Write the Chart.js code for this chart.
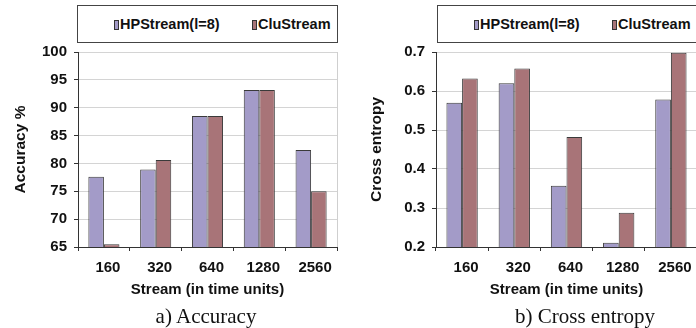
<!DOCTYPE html>
<html>
<head>
<meta charset="utf-8">
<script src="https://cdn.jsdelivr.net/npm/chart.js@4/dist/chart.umd.min.js"></script>
<style>
  body { margin: 0; background: #fff; width: 696px; height: 328px; overflow: hidden; position: relative;
         font-family: "Liberation Sans", Arial, sans-serif; }
  .panel { position: absolute; top: 0; height: 328px; overflow: hidden; }
  .legend { position: absolute; top: 5px; height: 38px; border: 1px solid #444; box-sizing: border-box; background: #fff; }
  .item { position: absolute; top: 0; height: 36px; line-height: 36px; font-weight: bold; font-size: 14.5px;
          color: #111; white-space: nowrap; }
  .sw { display: inline-block; width: 3px; height: 8px; border: 1px solid #333; margin-right: 1px; vertical-align: -1px; }
  .caption { position: absolute; top: 303px; width: 240px; text-align: center; font-family: "Liberation Serif", "Times New Roman", serif;
             font-size: 21px; line-height: 26px; color: #111; }
</style>
</head>
<body>
<div class="panel" style="left:0;width:348px">
  <canvas id="acc" width="348" height="328"></canvas>
  <div class="legend" id="acc-legend" style="left:77px;width:261px"></div>
</div>
<div class="panel" style="left:348px;width:348px">
  <canvas id="ce" width="362" height="328"></canvas>
  <div class="legend" id="ce-legend" style="left:89px;width:280px"></div>
</div>
<div class="caption" style="left:86px">a) Accuracy</div>
<div class="caption" style="left:465px">b) Cross entropy</div>
<script>
const streams = ["160", "320", "640", "1280", "2560"];
const seriesNames = ["HPStream(l=8)", "CluStream"];
const seriesColors = ["#a39bc8", "#a87478"];

const accHP = [77.6, 78.9, 88.5, 93.2, 82.4];
const accClu = [65.5, 80.6, 88.5, 93.2, 75.0];

const ceHP = [0.57, 0.62, 0.357, 0.211, 0.578];
const ceClu = [0.632, 0.658, 0.482, 0.288, 0.698];

const FONT = "'Liberation Sans', Arial, sans-serif";

// light gray line on the right side of the plot area
const plotFrame = {
  id: "plotFrame",
  afterDraw(chart) {
    const { ctx, chartArea } = chart;
    ctx.save();
    ctx.strokeStyle = "#cfcfcf";
    ctx.lineWidth = 1;
    ctx.beginPath();
    ctx.moveTo(Math.round(chartArea.right) + 0.5, chartArea.top);
    ctx.lineTo(Math.round(chartArea.right) + 0.5, chartArea.bottom);
    ctx.stroke();
    ctx.restore();
  },
};

function drawBars(id, values, cfg) {
  return new Chart(document.getElementById(id), {
    type: "bar",
    data: {
      labels: streams,
      datasets: values.map((v, i) => ({
        label: seriesNames[i],
        data: v,
        backgroundColor: seriesColors[i],
        borderColor: "#3a3a3a",
        borderWidth: 1,
        categoryPercentage: 0.6,
        barPercentage: 1.0,
      })),
    },
    options: {
      responsive: false,
      animation: false,
      layout: { padding: { top: 52, right: cfg.padRight, bottom: 28, left: 0 } },
      plugins: {
        legend: { display: false },
        tooltip: { enabled: false },
      },
      scales: {
        x: {
          grid: { drawOnChartArea: false, tickLength: 4, tickColor: "#333", offset: true },
          border: { color: "#333" },
          ticks: {
            color: "#111", font: { family: FONT, size: 15, weight: "bold" },
            padding: 8, maxRotation: 0, labelOffset: 4,
          },
          title: {
            display: true,
            text: "Stream (in time units)",
            color: "#111",
            font: { family: FONT, size: 15, weight: "bold" },
            padding: { top: 0, bottom: 1 },
          },
          afterFit(scale) { scale.height = 53; },
        },
        y: {
          min: cfg.min,
          max: cfg.max,
          grid: { color: "#d4d4d4", tickLength: 4, tickColor: "#333" },
          border: { color: "#333" },
          ticks: {
            stepSize: cfg.step,
            color: "#111",
            padding: 7,
            font: { family: FONT, size: 15, weight: "bold" },
            callback: (v) => cfg.step < 1 ? v.toFixed(1) : v,
          },
          title: {
            display: true,
            text: cfg.yTitle,
            color: "#111",
            font: { family: FONT, size: 15.5, weight: "bold" },
            padding: { top: cfg.titlePad, bottom: 0 },
          },
          afterFit(scale) { scale.width = cfg.yWidth; },
        },
      },
    },
    plugins: [plotFrame],
  });
}

function drawLegend(id, chart) {
  const box = document.getElementById(id);
  const offsets = [36, 174];
  chart.data.datasets.forEach((ds, i) => {
    const item = document.createElement("div");
    item.className = "item";
    item.style.left = offsets[i] + "px";
    const sw = document.createElement("span");
    sw.className = "sw";
    sw.style.background = ds.backgroundColor;
    item.appendChild(sw);
    item.appendChild(document.createTextNode(ds.label));
    box.appendChild(item);
  });
}

const accChart = drawBars("acc", [accHP, accClu], {
  min: 65, max: 100, step: 5, yTitle: "Accuracy %",
  yWidth: 78, padRight: 11, titlePad: 11,
});
const ceChart = drawBars("ce", [ceHP, ceClu], {
  min: 0.2, max: 0.7, step: 0.1, yTitle: "Cross entropy",
  yWidth: 88, padRight: 13, titlePad: 19,
});
drawLegend("acc-legend", accChart);
drawLegend("ce-legend", ceChart);
</script>
</body>
</html>
